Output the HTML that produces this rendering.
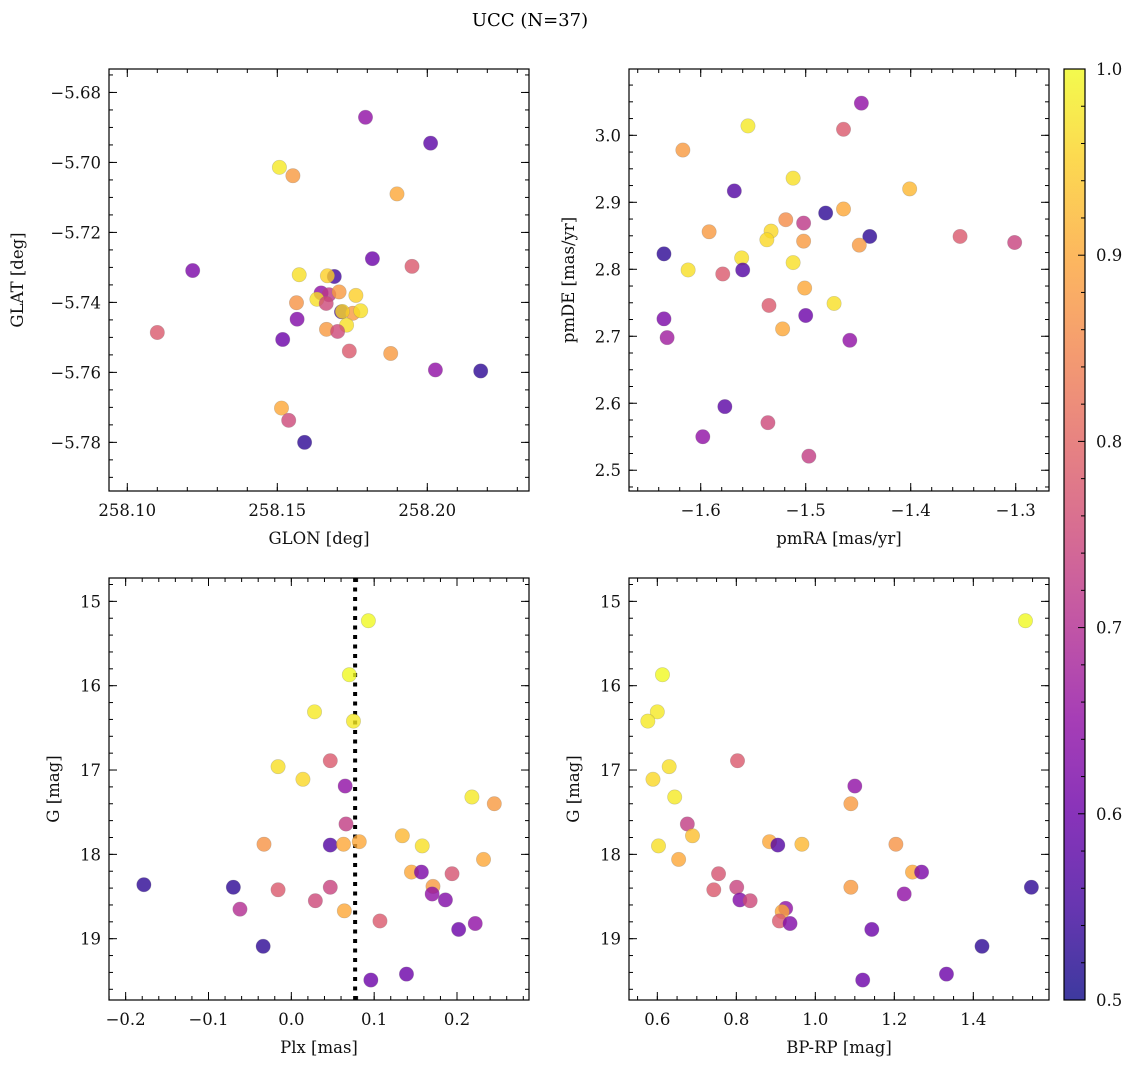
<!DOCTYPE html>
<html><head><meta charset="utf-8">
<style>
html,body{margin:0;padding:0;background:#fff;}
svg{display:block;font-family:"DejaVu Serif","Liberation Serif",serif;}
</style></head>
<body>
<svg id="fig" width="1136" height="1068" viewBox="0 0 1136 1068" xmlns="http://www.w3.org/2000/svg">
<text x="530" y="26" font-size="18" text-anchor="middle">UCC (N=37)</text>
</svg>
<script>
// Panel 1: GLON / GLAT
const p1Glon=[258.1794,258.2011,258.1507,258.1552,258.1899,258.1218,258.1817,258.1949,258.1573,258.1690,258.1667,258.1646,258.1672,258.1706,258.1762,258.1632,258.1564,258.1663,258.1714,258.1752,258.1717,258.1778,258.1566,258.1731,258.1664,258.1701,258.1740,258.1878,258.1100,258.1518,258.2027,258.2178,258.1514,258.1538,258.1591];
const p1Glat=[-5.6871,-5.6945,-5.7014,-5.7038,-5.7090,-5.7309,-5.7275,-5.7297,-5.7321,-5.7326,-5.7324,-5.7373,-5.7378,-5.7370,-5.7380,-5.7391,-5.7401,-5.7403,-5.7427,-5.7431,-5.7426,-5.7424,-5.7448,-5.7465,-5.7477,-5.7483,-5.7539,-5.7546,-5.7486,-5.7506,-5.7593,-5.7596,-5.7702,-5.7737,-5.7800];
const p1Prob=[0.65,0.58,0.98,0.88,0.90,0.62,0.60,0.78,0.97,0.55,0.95,0.65,0.72,0.88,0.95,0.97,0.87,0.75,0.55,0.88,0.96,0.97,0.63,0.97,0.88,0.75,0.78,0.88,0.78,0.60,0.65,0.53,0.90,0.75,0.53];
// Panel 2: pmRA / pmDE
const p2Pmra=[-1.447,-1.464,-1.555,-1.617,-1.568,-1.512,-1.401,-1.481,-1.464,-1.519,-1.502,-1.592,-1.533,-1.537,-1.502,-1.439,-1.449,-1.353,-1.301,-1.635,-1.561,-1.512,-1.612,-1.579,-1.560,-1.501,-1.473,-1.535,-1.635,-1.500,-1.632,-1.522,-1.458,-1.577,-1.536,-1.598,-1.497];
const p2Pmde=[3.048,3.009,3.014,2.978,2.917,2.936,2.920,2.884,2.890,2.874,2.869,2.856,2.857,2.844,2.842,2.849,2.836,2.849,2.840,2.823,2.817,2.810,2.799,2.793,2.799,2.772,2.749,2.746,2.726,2.731,2.698,2.711,2.694,2.595,2.571,2.550,2.521];
const p2Prob=[0.65,0.78,0.98,0.88,0.57,0.97,0.92,0.53,0.90,0.86,0.72,0.88,0.96,0.96,0.88,0.53,0.88,0.78,0.74,0.53,0.97,0.97,0.97,0.78,0.57,0.90,0.97,0.78,0.62,0.60,0.67,0.90,0.65,0.58,0.75,0.65,0.73];
// Panel 3: Plx / G
const p3Plx=[0.093,0.070,0.028,0.075,0.047,-0.016,0.014,0.065,0.218,0.245,0.066,0.134,0.158,0.232,0.082,0.047,0.063,-0.033,0.145,0.157,0.194,-0.016,0.047,0.171,-0.178,0.170,0.186,0.029,-0.062,0.064,0.107,0.222,0.202,-0.070,-0.034,0.139,0.096];
const p3G=[15.23,15.87,16.31,16.42,16.89,16.96,17.11,17.19,17.32,17.40,17.64,17.78,17.90,18.06,17.85,17.89,17.88,17.88,18.21,18.21,18.23,18.42,18.39,18.38,18.36,18.47,18.54,18.55,18.65,18.67,18.79,18.82,18.89,18.39,19.09,19.42,19.49];
const p3Prob=[1.0,1.0,0.98,0.98,0.78,0.97,0.96,0.65,0.98,0.88,0.73,0.92,0.97,0.90,0.90,0.57,0.90,0.87,0.90,0.62,0.77,0.78,0.74,0.88,0.53,0.65,0.63,0.75,0.70,0.90,0.78,0.65,0.60,0.53,0.53,0.60,0.60];
const plxLine=0.077;
// Panel 4: BP-RP / G
const p4Bprp=[1.532,0.613,0.600,0.576,0.803,0.630,0.589,1.100,0.644,1.090,0.676,0.689,0.603,0.654,0.884,0.905,0.966,1.204,1.246,1.269,0.755,0.743,0.801,1.090,1.547,1.225,0.809,0.835,0.925,0.916,0.909,0.936,1.143,1.422,1.332,1.120];
const p4G=[15.23,15.87,16.31,16.42,16.89,16.96,17.11,17.19,17.32,17.40,17.64,17.78,17.90,18.06,17.85,17.89,17.88,17.88,18.21,18.21,18.23,18.42,18.39,18.39,18.39,18.47,18.54,18.55,18.64,18.68,18.79,18.82,18.89,19.09,19.42,19.49];
const p4Prob=[1.0,1.0,0.98,0.98,0.78,0.97,0.96,0.65,0.98,0.88,0.73,0.93,0.97,0.90,0.90,0.57,0.92,0.87,0.90,0.62,0.77,0.78,0.74,0.88,0.53,0.65,0.63,0.75,0.65,0.90,0.78,0.63,0.60,0.53,0.60,0.60];
const cbTicks=[0.5,0.6,0.7,0.8,0.9,1.0];

const NS="http://www.w3.org/2000/svg";
const svg=document.getElementById('fig');
function mk(tag,attrs,parent){const e=document.createElementNS(NS,tag);for(const k in attrs)e.setAttribute(k,attrs[k]);(parent||svg).appendChild(e);return e;}
const stops=[[13,8,135],[65,4,157],[106,0,168],[143,13,164],[177,42,144],[204,71,120],[225,100,98],[242,132,75],[252,166,54],[252,206,37],[240,249,33]];
function plasma(t){t=Math.max(0,Math.min(1,t));const f=t*10;const i=Math.min(9,Math.floor(f));const r=f-i;const a=stops[i],b=stops[i+1];return 'rgb('+a.map((v,k)=>Math.round(v+(b[k]-v)*r)).join(',')+')';}
function pcol(p){return plasma((p-0.5)/0.5);}
function fmt(v,d){const s=Math.abs(v).toFixed(d);return (v<-1e-9?'\u2212':'')+s;}

function panel(o){
  const g=mk('g',{});
  
  
  const L=o.x0,T=o.y0,W=420,H=422;
  const sx=v=>L+(v-o.xmin)/(o.xmax-o.xmin)*W;
  const sy=v=>o.yinv? T+(v-o.ymin)/(o.ymax-o.ymin)*H : T+H-(v-o.ymin)/(o.ymax-o.ymin)*H;
  const cid='clip'+o.name;
  const cp=mk('clipPath',{id:cid},g);mk('rect',{x:L,y:T,width:W,height:H},cp);
  const marks=mk('g',{'clip-path':'url(#'+cid+')'},g);
  if(o.vline!==undefined){
    const ln=mk('line',{x1:sx(o.vline),x2:sx(o.vline),y1:T,y2:T+H,stroke:'#000','stroke-width':4,'stroke-dasharray':'4 5.5'},marks);
    
    
  }
  for(let i=0;i<o.xs.length;i++){
    const c=mk('circle',{cx:sx(o.xs[i]),cy:sy(o.ys[i]),r:7.2,fill:pcol(o.ps[i]),'fill-opacity':0.8,stroke:'#777','stroke-opacity':0.35,'stroke-width':0.6},marks);
    
    
  }
  const box=mk('rect',{x:L,y:T,width:W,height:H,fill:'none',stroke:'#000','stroke-width':1.2},g);
  
  
  const tg=mk('g',{stroke:'#000','stroke-width':1},g);
  function ticksX(step,len,labels){
    const n0=Math.ceil(o.xmin/step-1e-6),n1=Math.floor(o.xmax/step+1e-6);
    for(let n=n0;n<=n1;n++){const v=n*step,x=sx(v);
      mk('line',{x1:x,x2:x,y1:T+H,y2:T+H-len},tg);mk('line',{x1:x,x2:x,y1:T,y2:T+len},tg);
      if(labels){const t=mk('text',{x:x,y:T+H+25,'font-size':16.5,'text-anchor':'middle',fill:'#111'},g);t.textContent=fmt(v,o.xd);
        }
    }
  }
  function ticksY(step,len,labels){
    const n0=Math.ceil(o.ymin/step-1e-6),n1=Math.floor(o.ymax/step+1e-6);
    for(let n=n0;n<=n1;n++){const v=n*step,y=sy(v);
      mk('line',{x1:L,x2:L+len,y1:y,y2:y},tg);mk('line',{x1:L+W,x2:L+W-len,y1:y,y2:y},tg);
      if(labels){const t=mk('text',{x:L-8,y:y+6,'font-size':16.5,'text-anchor':'end',fill:'#111'},g);t.textContent=fmt(v,o.yd);
        }
    }
  }
  ticksX(o.xmaj,8,true);ticksX(o.xmin_,4,false);ticksY(o.ymaj,8,true);ticksY(o.ymin_,4,false);
  const xl=mk('text',{x:L+W/2,y:T+H+53,'font-size':16.5,'text-anchor':'middle',fill:'#111'},g);xl.textContent=o.xlabel;
  
  const yx=o.ylx,yy=T+H/2;
  const yl=mk('text',{x:yx,y:yy,'font-size':16.5,'text-anchor':'middle',fill:'#111',transform:'rotate(-90 '+yx+' '+yy+')'},g);yl.textContent=o.ylabel;
  
}

panel({name:'glon-glat-panel',x0:109,y0:69,xmin:258.0939,xmax:258.2339,ymin:-5.7939,ymax:-5.6733,xs:p1Glon,ys:p1Glat,ps:p1Prob,xmaj:0.05,xmin_:0.01,ymaj:0.02,ymin_:0.005,xd:2,yd:2,xlabel:'GLON [deg]',ylabel:'GLAT [deg]',ylx:23});
panel({name:'pm-panel',x0:629,y0:69,xmin:-1.6683,xmax:-1.2683,ymin:2.469,ymax:3.099,xs:p2Pmra,ys:p2Pmde,ps:p2Prob,xmaj:0.1,xmin_:0.02,ymaj:0.1,ymin_:0.025,xd:1,yd:1,xlabel:'pmRA [mas/yr]',ylabel:'pmDE [mas/yr]',ylx:574});
panel({name:'plx-g-panel',x0:109,y0:578,xmin:-0.2201,xmax:0.2869,ymin:14.723,ymax:19.727,yinv:true,xs:p3Plx,ys:p3G,ps:p3Prob,xmaj:0.1,xmin_:0.02,ymaj:1,ymin_:0.2,xd:1,yd:0,xlabel:'Plx [mas]',ylabel:'G [mag]',ylx:59,vline:plxLine});
panel({name:'cmd-panel',x0:629,y0:578,xmin:0.5283,xmax:1.5916,ymin:14.723,ymax:19.727,yinv:true,xs:p4Bprp,ys:p4G,ps:p4Prob,xmaj:0.2,xmin_:0.05,ymaj:1,ymin_:0.2,xd:1,yd:0,xlabel:'BP-RP [mag]',ylabel:'G [mag]',ylx:579});

const cb=mk('g',{});


const defs=mk('defs',{},cb);
const lg=mk('linearGradient',{id:'cbg',x1:0,y1:1,x2:0,y2:0},defs);
for(let i=0;i<=20;i++){mk('stop',{offset:(i/20),'stop-color':plasma(i/20),'stop-opacity':0.8},lg);}
const CX=1064,CY=69,CW=21,CH=931;
mk('rect',{x:CX,y:CY,width:CW,height:CH,fill:'url(#cbg)'},cb);
mk('rect',{x:CX,y:CY,width:CW,height:CH,fill:'none',stroke:'#000','stroke-width':1.2},cb);
const cy=v=>CY+CH-(v-0.5)/0.5*CH;
for(let v=0.5;v<=1.0001;v+=0.02){const y=cy(v);const major=Math.abs(v*10-Math.round(v*10))<1e-6;
  mk('line',{x1:CX+CW,x2:CX+CW-(major?7:4),y1:y,y2:y,stroke:'#000','stroke-width':1},cb);}
for(let i=0;i<cbTicks.length;i++){const t=mk('text',{x:CX+CW+11,y:cy(cbTicks[i])+6,'font-size':16.5,fill:'#111'},cb);t.textContent=cbTicks[i].toFixed(1);
  }
</script>
</body></html>
